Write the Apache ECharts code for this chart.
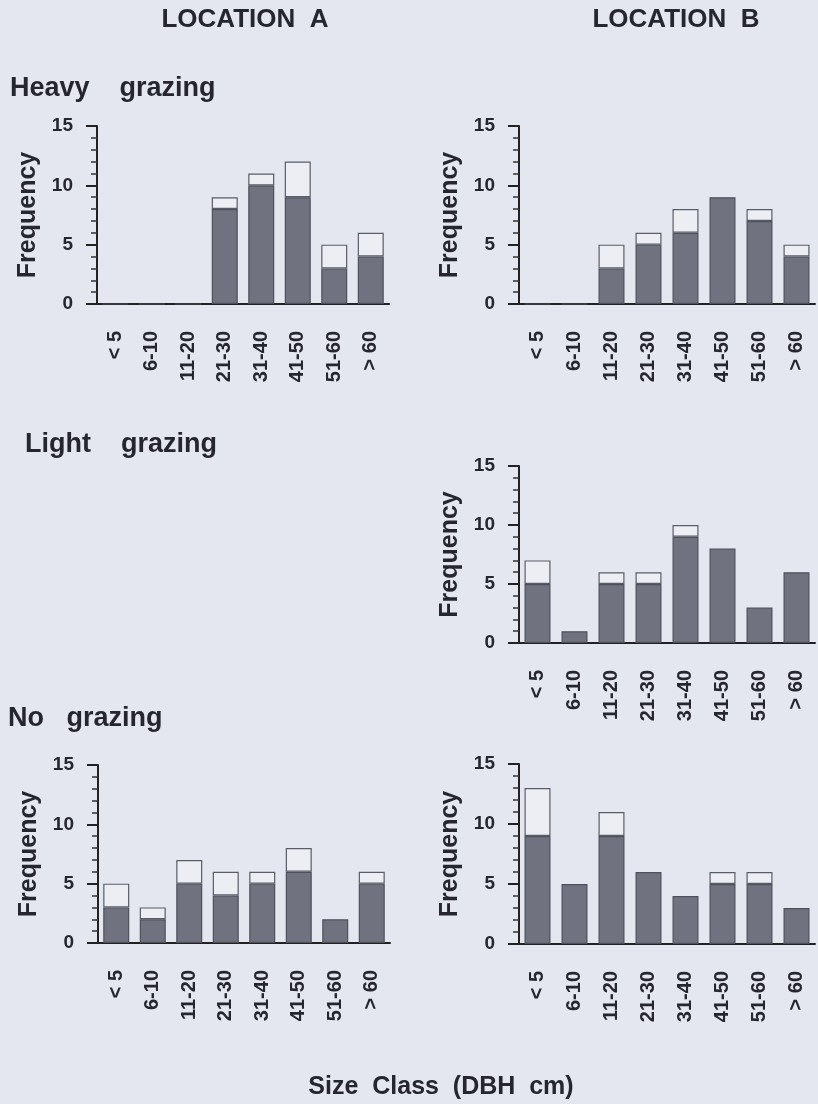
<!DOCTYPE html>
<html><head><meta charset="utf-8">
<script src="https://cdn.jsdelivr.net/npm/echarts@6/dist/echarts.min.js"></script>
<style>html,body{margin:0;padding:0;background:#e4e7ef;}#c{width:818px;height:1104px;}</style>
</head><body><div id="c"></div>
<script>
const categories = ['< 5', '6-10', '11-20', '21-30', '31-40', '41-50', '51-60', '> 60'];
const yTicks = [0, 5, 10, 15];
// dark (lower) part and light (upper) part of each stacked bar
const heavyA_dark  = [0, 0, 0, 8, 10, 9, 3, 4];
const heavyA_light = [0, 0, 0, 1, 1, 3, 2, 2];
const heavyB_dark  = [0, 0, 3, 5, 6, 9, 7, 4];
const heavyB_light = [0, 0, 2, 1, 2, 0, 1, 1];
const lightB_dark  = [5, 1, 5, 5, 9, 8, 3, 6];
const lightB_light = [2, 0, 1, 1, 1, 0, 0, 0];
const noA_dark     = [3, 2, 5, 4, 5, 6, 2, 5];
const noA_light    = [2, 1, 2, 2, 1, 2, 0, 1];
const noB_dark     = [9, 5, 9, 6, 4, 5, 5, 3];
const noB_light    = [4, 0, 2, 0, 0, 1, 1, 0];

const panels = [
  {dark: heavyA_dark, light: heavyA_light, grid: {left: 97, top: 126, width: 292, height: 178}},
  {dark: heavyB_dark, light: heavyB_light, grid: {left: 519, top: 126, width: 296, height: 178}},
  {dark: lightB_dark, light: lightB_light, grid: {left: 519, top: 466, width: 296, height: 177}},
  {dark: noA_dark,    light: noA_light,    grid: {left: 98,  top: 765, width: 292, height: 178}},
  {dark: noB_dark,    light: noB_light,    grid: {left: 519, top: 764, width: 296, height: 180}}
];

const FONT = 'Liberation Sans';
const TXT = '#262631';
const grids = [], xAxes = [], yAxes = [], series = [];
panels.forEach((p, i) => {
  grids.push(Object.assign({containLabel: false}, p.grid));
  xAxes.push({
    type: 'category', gridIndex: i, data: categories,
    axisLine: {lineStyle: {color: '#222', width: 2}},
    axisTick: {alignWithLabel: true, length: 12, lineStyle: {color: '#222', width: 2}},
    axisLabel: {rotate: 90, margin: 27, fontFamily: FONT, fontWeight: 'bold', fontSize: 20, color: TXT, interval: 0}
  });
  yAxes.push({
    type: 'value', gridIndex: i, min: yTicks[0], max: yTicks[yTicks.length - 1], interval: yTicks[1] - yTicks[0],
    name: 'Frequency', nameLocation: 'middle', nameGap: 56,
    nameTextStyle: {fontFamily: FONT, fontWeight: 'bold', fontSize: 25, color: TXT},
    axisLine: {show: true, lineStyle: {color: '#222', width: 2}},
    axisTick: {show: true, length: 11, lineStyle: {color: '#222', width: 2}},
    minorTick: {show: true, splitNumber: 5, length: 6, lineStyle: {color: '#333', width: 1.5}},
    splitLine: {show: false},
    axisLabel: {margin: 24, fontFamily: FONT, fontWeight: 'bold', fontSize: 19, color: TXT}
  });
  series.push({
    type: 'bar', xAxisIndex: i, yAxisIndex: i, stack: 's' + i, barWidth: 26,
    data: p.dark,
    itemStyle: {color: '#70737f', borderColor: '#4e505c', borderWidth: 1.2}
  });
  series.push({
    type: 'bar', xAxisIndex: i, yAxisIndex: i, stack: 's' + i, barWidth: 26,
    data: p.light.map(v => v === 0 ? '-' : v),
    itemStyle: {color: '#eceef4', borderColor: '#5a5c68', borderWidth: 1.2}
  });
});

const t = (text, x, y, size, align) => ({
  type: 'text', x: x, y: y,
  style: {text: text, fontFamily: FONT, fontWeight: 'bold', fontSize: size, fill: TXT, textAlign: align, textVerticalAlign: 'middle'}
});

const chart = echarts.init(document.getElementById('c'), null, {renderer: 'canvas'});
chart.setOption({
  backgroundColor: '#e4e7ef',
  animation: false,
  grid: grids, xAxis: xAxes, yAxis: yAxes, series: series,
  graphic: [
    t('LOCATION  A', 245, 20, 26, 'center'),
    t('LOCATION  B', 676, 20, 26, 'center'),
    t('Heavy    grazing', 10, 89, 27, 'left'),
    t('Light    grazing', 25, 445, 27, 'left'),
    t('No   grazing', 8, 719, 27, 'left'),
    t('Size  Class  (DBH  cm)', 441, 1087, 25, 'center')
  ]
});
</script></body></html>
